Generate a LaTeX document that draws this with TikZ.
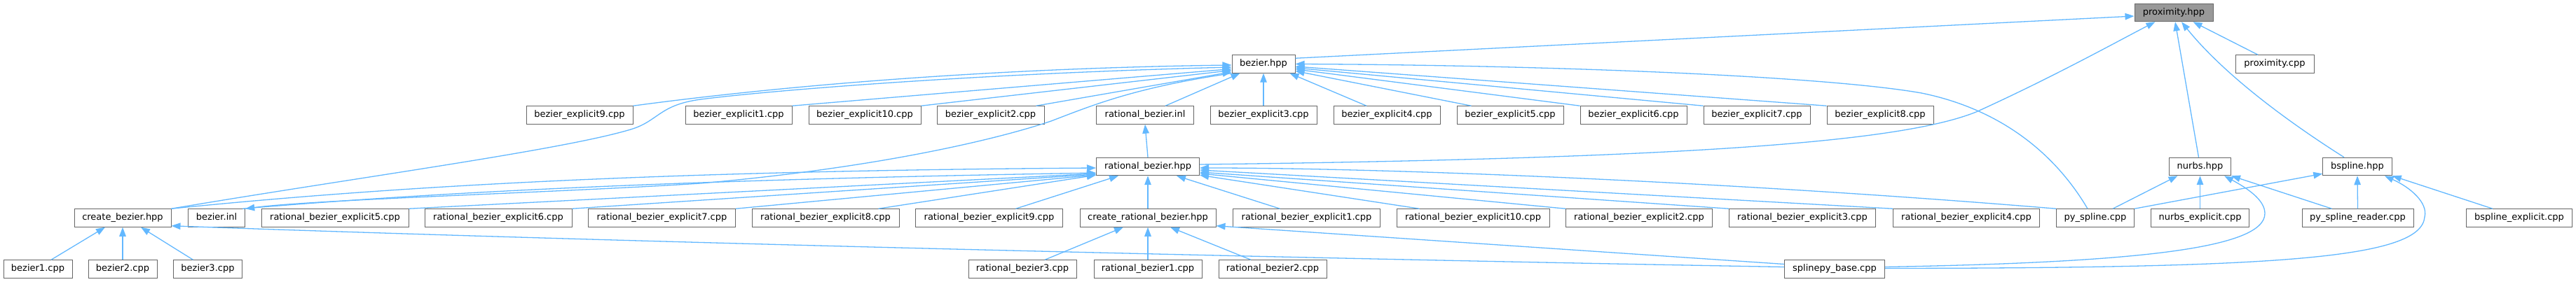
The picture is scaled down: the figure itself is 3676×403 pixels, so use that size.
\documentclass[tikz,border=0pt]{standalone}
\usepackage{fontspec}
\newfontfamily\dvs{DejaVu Sans}
\usetikzlibrary{arrows.meta}
\definecolor{edgeblue}{HTML}{63B8FF}
\definecolor{nodeborder}{HTML}{666666}
\definecolor{selfill}{HTML}{999999}
\begin{document}
\begin{tikzpicture}[x=1pt,y=-1pt,
  file/.style={draw=nodeborder, fill=white, line width=1pt, minimum height=25.5pt, inner sep=0pt,
    text height=9.5pt, text depth=2.8pt, font={\dvs\fontsize{13}{15}\selectfont}},
  sel/.style={file, fill=selfill},
  inc/.style={draw=edgeblue, line width=1.3pt, -{Triangle[length=13pt,width=9.5pt]}}]
\useasboundingbox (0,0) rectangle (3676,403);
% row 0
\node[sel, minimum width=112pt] (prox) at (3102,18) {proximity.hpp};
% row 1
\node[file, minimum width=90pt] (bezhpp) at (1803,91.5) {bezier.hpp};
\node[file, minimum width=112pt] (proxcpp) at (3246,91.5) {proximity.cpp};
% row 2
\node[file, minimum width=152pt] (be9) at (827,164.5) {bezier\_explicit9.cpp};
\node[file, minimum width=152pt] (be1) at (1054,164.5) {bezier\_explicit1.cpp};
\node[file, minimum width=160pt] (be10) at (1234,164.5) {bezier\_explicit10.cpp};
\node[file, minimum width=153pt] (be2) at (1413.5,164.5) {bezier\_explicit2.cpp};
\node[file, minimum width=139pt] (rbinl) at (1634,164.5) {rational\_bezier.inl};
\node[file, minimum width=152pt] (be3) at (1803,164.5) {bezier\_explicit3.cpp};
\node[file, minimum width=152pt] (be4) at (1979,164.5) {bezier\_explicit4.cpp};
\node[file, minimum width=152pt] (be5) at (2155,164.5) {bezier\_explicit5.cpp};
\node[file, minimum width=152pt] (be6) at (2331,164.5) {bezier\_explicit6.cpp};
\node[file, minimum width=152pt] (be7) at (2507,164.5) {bezier\_explicit7.cpp};
\node[file, minimum width=152pt] (be8) at (2683,164.5) {bezier\_explicit8.cpp};
% row 3
\node[file, minimum width=147pt] (rbhpp) at (1638,238) {rational\_bezier.hpp};
\node[file, minimum width=88pt] (nurbs) at (3139.5,238) {nurbs.hpp};
\node[file, minimum width=98.5pt] (bspline) at (3364,238) {bspline.hpp};
% row 4
\node[file, minimum width=138pt] (cb) at (175,311.5) {create\_bezier.hpp};
\node[file, minimum width=81.5pt] (bezinl) at (309,311.5) {bezier.inl};
\node[file, minimum width=210pt] (rbe5) at (478,311.5) {rational\_bezier\_explicit5.cpp};
\node[file, minimum width=210pt] (rbe6) at (711,311.5) {rational\_bezier\_explicit6.cpp};
\node[file, minimum width=210pt] (rbe7) at (944.5,311.5) {rational\_bezier\_explicit7.cpp};
\node[file, minimum width=210pt] (rbe8) at (1178,311.5) {rational\_bezier\_explicit8.cpp};
\node[file, minimum width=210pt] (rbe9) at (1411.5,311.5) {rational\_bezier\_explicit9.cpp};
\node[file, minimum width=194pt] (crbhpp) at (1638,311.5) {create\_rational\_bezier.hpp};
\node[file, minimum width=210pt] (rbe1) at (1864.5,311.5) {rational\_bezier\_explicit1.cpp};
\node[file, minimum width=218pt] (rbe10) at (2102,311.5) {rational\_bezier\_explicit10.cpp};
\node[file, minimum width=209pt] (rbe2) at (2339,311.5) {rational\_bezier\_explicit2.cpp};
\node[file, minimum width=209pt] (rbe3) at (2572,311.5) {rational\_bezier\_explicit3.cpp};
\node[file, minimum width=209pt] (rbe4) at (2806,311.5) {rational\_bezier\_explicit4.cpp};
\node[file, minimum width=111pt] (pysp) at (2990,311.5) {py\_spline.cpp};
\node[file, minimum width=140pt] (nexp) at (3139.5,311.5) {nurbs\_explicit.cpp};
\node[file, minimum width=159pt] (pyrd) at (3364.5,311.5) {py\_spline\_reader.cpp};
\node[file, minimum width=151pt] (bexp) at (3595,311.5) {bspline\_explicit.cpp};
% row 5
\node[file, minimum width=98pt] (b1) at (54,384.5) {bezier1.cpp};
\node[file, minimum width=98pt] (b2) at (175,384.5) {bezier2.cpp};
\node[file, minimum width=98pt] (b3) at (296.5,384.5) {bezier3.cpp};
\node[file, minimum width=154pt] (rb3) at (1459,384.5) {rational\_bezier3.cpp};
\node[file, minimum width=154pt] (rb1) at (1638,384.5) {rational\_bezier1.cpp};
\node[file, minimum width=154pt] (rb2) at (1816,384.5) {rational\_bezier2.cpp};
\node[file, minimum width=143pt] (spb) at (2618,384.5) {splinepy\_base.cpp};

% ---- edges into proximity.hpp
\draw[inc] ([shift={(0,5)}]bezhpp.north east) -- ([shift={(0,5)}]prox.west);
\draw[inc] ([shift={(0,-3)}]rbhpp.east) .. controls (2450,226) and (2720,200) .. (2820,160)
  .. controls (2930,110) and (3020,60) .. ([shift={(30,0)}]prox.south west);
\draw[inc] ([shift={(-2,0)}]nurbs.north) -- ([shift={(2,0)}]prox.south);
\draw[inc] ([shift={(-19,0)}]bspline.north) .. controls (3243,160) and (3165,96) .. ([shift={(11,0)}]prox.south);
\draw[inc] ([shift={(-24,0)}]proxcpp.north) -- ([shift={(-29,0)}]prox.south east);

% ---- edges into bezier.hpp
\draw[inc] (be9.north east) .. controls (1150,118) and (1450,97) .. ([shift={(0,1.5)}]bezhpp.west);
\draw[inc] (cb.north east) .. controls (500,255) and (800,215) .. (900,185)
  .. controls (940,173) and (940,150) .. (1000,142)
  .. controls (1100,129) and (1400,105) .. ([shift={(0,4.5)}]bezhpp.west);
\draw[inc] (be1.north east) -- ([shift={(0,7)}]bezhpp.west);
\draw[inc] (be10.north east) -- ([shift={(0,9)}]bezhpp.west);
\draw[inc] ([shift={(-12,0)}]be2.north east) -- ([shift={(0,-2)}]bezhpp.south west);
\draw[inc] ([shift={(29,0)}]rbinl.north) -- ([shift={(12,0)}]bezhpp.south west);
\draw[inc] (be3.north) -- (bezhpp.south);
\draw[inc] ([shift={(-29,0)}]be4.north) -- ([shift={(-8,0)}]bezhpp.south east);
\draw[inc] ([shift={(21,0)}]be5.north west) -- ([shift={(0,10)}]bezhpp.east);
\draw[inc] (be6.north west) -- ([shift={(0,7.5)}]bezhpp.east);
\draw[inc] (be7.north west) -- ([shift={(0,5.5)}]bezhpp.east);
\draw[inc] (be8.north west) -- ([shift={(0,3.5)}]bezhpp.east);
\draw[inc] ([shift={(-11,0)}]pysp.north) .. controls (2930,215) and (2850,155) .. (2742,133)
  .. controls (2600,108) and (2200,93) .. (bezhpp.east);

% ---- bezier.hpp -> bezier.inl
\draw[inc] (bezhpp.south west) .. controls (1620,125) and (1560,150) .. (1500,173)
  .. controls (1420,200) and (1250,240) .. (1000,262)
  .. controls (800,275) and (450,285) .. (bezinl.north east);

% ---- rational_bezier.hpp -> rational_bezier.inl
\draw[inc] (rbhpp.north) -- (rbinl.south);

% ---- edges into rational_bezier.hpp
\draw[inc] (cb.north east) .. controls (600,262) and (1000,244) .. ([shift={(0,2)}]rbhpp.west);
\draw[inc] ([shift={(-4,0)}]bezinl.north east) .. controls (700,268) and (1100,255) .. ([shift={(0,9)}]rbhpp.west);
\draw[inc] (rbe5.north east) -- ([shift={(0,10)}]rbhpp.west);
\draw[inc] (rbe6.north east) -- ([shift={(0,11)}]rbhpp.west);
\draw[inc] (rbe7.north east) -- ([shift={(0,12)}]rbhpp.west);
\draw[inc] ([shift={(-30,0)}]rbe8.north east) -- ([shift={(0,-1)}]rbhpp.south west);
\draw[inc] ([shift={(38,0)}]rbe9.north) -- ([shift={(-42,0)}]rbhpp.south);
\draw[inc] (crbhpp.north) -- (rbhpp.south);
\draw[inc] ([shift={(-38,0)}]rbe1.north) -- ([shift={(41,0)}]rbhpp.south);
\draw[inc] ([shift={(33,0)}]rbe10.north west) -- ([shift={(0,-1)}]rbhpp.south east);
\draw[inc] (rbe2.north west) -- ([shift={(0,10)}]rbhpp.east);
\draw[inc] (rbe3.north west) -- ([shift={(0,8)}]rbhpp.east);
\draw[inc] (rbe4.north west) -- ([shift={(0,5)}]rbhpp.east);
\draw[inc] (pysp.north west) .. controls (2500,262) and (2000,240) .. ([shift={(0,2)}]rbhpp.east);

% ---- create_bezier.hpp
\draw[inc] ([shift={(19,0)}]b1.north) -- ([shift={(-25,0)}]cb.south);
\draw[inc] (b2.north) -- (cb.south);
\draw[inc] ([shift={(-21,0)}]b3.north) -- ([shift={(26,0)}]cb.south);
\draw[inc] ([shift={(0,-3)}]spb.west) .. controls (2000,372) and (1000,350) .. ([shift={(0,-2)}]cb.south east);

% ---- create_rational_bezier.hpp
\draw[inc] ([shift={(32,0)}]rb3.north) -- ([shift={(-35,0)}]crbhpp.south);
\draw[inc] (rb1.north) -- (crbhpp.south);
\draw[inc] ([shift={(-31,0)}]rb2.north) -- ([shift={(32,0)}]crbhpp.south);
\draw[inc] ([shift={(0,-7)}]spb.west) -- ([shift={(0,-2)}]crbhpp.south east);

% ---- nurbs.hpp
\draw[inc] ([shift={(25,0)}]pysp.north) -- ([shift={(-32,0)}]nurbs.south);
\draw[inc] (nexp.north) -- (nurbs.south);
\draw[inc] ([shift={(-37,0)}]pyrd.north) -- (nurbs.south east);
\draw[inc] ([shift={(0,-3)}]spb.east) .. controls (3050,375) and (3232,355) .. (3232,305)
  .. controls (3232,285) and (3205,268) .. ([shift={(-10,0)}]nurbs.south east);

% ---- bspline.hpp
\draw[inc] (pysp.north east) -- ([shift={(0,-3)}]bspline.south west);
\draw[inc] (pyrd.north) -- (bspline.south);
\draw[inc] ([shift={(-38,0)}]bexp.north) -- (bspline.south east);
\draw[inc] ([shift={(0,-1)}]spb.east) .. controls (3250,383) and (3455,370) .. (3460,310)
  .. controls (3465,290) and (3440,268) .. ([shift={(-11,0)}]bspline.south east);
\end{tikzpicture}
\end{document}
